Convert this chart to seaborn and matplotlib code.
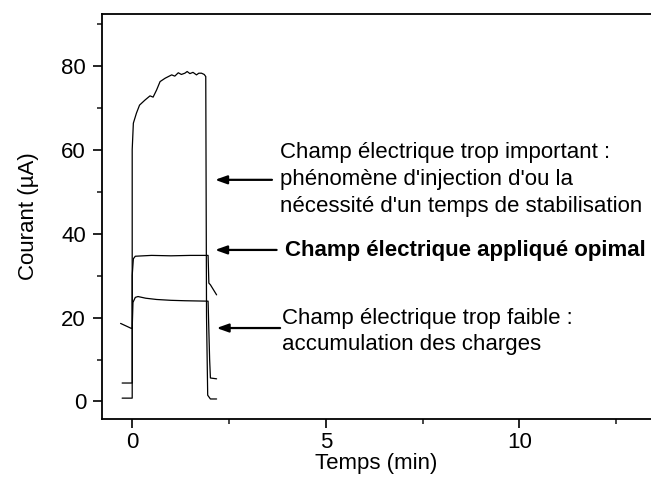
import numpy as np
import pandas as pd
import matplotlib
matplotlib.use("Agg")
import matplotlib.pyplot as plt
import seaborn as sns
from matplotlib.ticker import MultipleLocator

# Courbes (temps en min, courant en uA)
t_fort = [-0.26, 0.0, 0.0, 0.03, 0.11, 0.19, 0.33, 0.46, 0.54, 0.63, 0.72, 0.85,
          1.02, 1.10, 1.19, 1.27, 1.36, 1.42, 1.49, 1.57, 1.66, 1.72, 1.79, 1.86,
          1.90, 1.92, 1.95, 2.02, 2.18]
i_fort = [0.8, 0.8, 60.0, 66.3, 68.7, 70.6, 71.8, 72.8, 72.5, 74.2, 76.2, 77.0,
          77.8, 77.5, 78.3, 77.9, 78.2, 78.6, 78.1, 78.4, 77.8, 78.2, 78.2, 77.9,
          77.4, 20.0, 1.5, 0.6, 0.6]

t_opt = [-0.26, 0.0, 0.0, 0.03, 0.08, 0.5, 1.0, 1.5, 1.96, 1.98, 2.02, 2.18]
i_opt = [4.4, 4.4, 30.0, 34.0, 34.6, 34.8, 34.7, 34.8, 34.8, 28.2, 27.8, 25.4]

t_faible = [-0.30, -0.02, 0.0, 0.02, 0.08, 0.15, 0.35, 0.63, 1.0, 1.36, 1.96, 2.0, 2.02, 2.18]
i_faible = [18.6, 17.4, 17.4, 23.6, 24.8, 25.0, 24.6, 24.3, 24.1, 24.0, 23.9, 10.0, 5.6, 5.4]

labels = ["Champ électrique trop important :\nphénomène d'injection d'ou la\nnécessité d'un temps de stabilisation",
          "Champ électrique appliqué opimal",
          "Champ électrique trop faible :\naccumulation des charges"]

sns.set_style("ticks")
plt.rcParams['font.family'] = ['Liberation Sans', 'DejaVu Sans']
plt.rcParams['text.color'] = 'black'
plt.rcParams['axes.labelcolor'] = 'black'

fig = plt.figure(figsize=(6.51, 4.80), dpi=100)
ax = fig.add_axes([102 / 651, 1 - 418.5 / 480, 1 - 102 / 651, (418.5 - 14) / 480])

for t, i in [(t_fort, i_fort), (t_opt, i_opt), (t_faible, i_faible)]:
    df = pd.DataFrame({'t': t, 'i': i})
    sns.lineplot(data=df, x='t', y='i', sort=False, estimator=None,
                 color='black', linewidth=0.9, ax=ax)

ax.set_xlim(-0.78, 13.40)
ax.set_ylim(-4.05, 92.3)
ax.xaxis.set_major_locator(MultipleLocator(5))
ax.xaxis.set_minor_locator(MultipleLocator(2.5))
ax.yaxis.set_major_locator(MultipleLocator(20))
ax.yaxis.set_minor_locator(MultipleLocator(10))
ax.tick_params(which='major', direction='out', length=6.5, width=1.2, labelsize=16, colors='black')
ax.tick_params(axis='y', which='major', pad=5)
ax.tick_params(axis='x', which='major', pad=3)
ax.tick_params(which='minor', direction='out', length=3.5, width=1.2)
ax.spines['right'].set_visible(False)
for s in ['left', 'bottom', 'top']:
    ax.spines[s].set_linewidth(1.3)
    ax.spines[s].set_color('black')

ax.set_xlabel('Temps (min)', fontsize=16, labelpad=0)
ax.set_ylabel('Courant (µA)', fontsize=16, labelpad=16)

arr = dict(arrowstyle='-|>,head_length=0.7,head_width=0.25', color='black', lw=1.6,
           shrinkA=0, shrinkB=0)
ax.annotate('', xy=(2.14, 52.8), xytext=(3.61, 52.8), arrowprops=arr)
ax.annotate('', xy=(2.14, 36.1), xytext=(3.73, 36.1), arrowprops=arr)
ax.annotate('', xy=(2.18, 17.5), xytext=(3.82, 17.5), arrowprops=arr)

ax.text(3.82, 52.9, labels[0], fontsize=16, va='center', ha='left', linespacing=1.38)
ax.text(3.95, 36.0, labels[1], fontsize=16, fontweight='bold', va='center', ha='left')
ax.text(3.87, 16.7, labels[2], fontsize=16, va='center', ha='left', linespacing=1.3)

fig.savefig('out.png', dpi=100)
